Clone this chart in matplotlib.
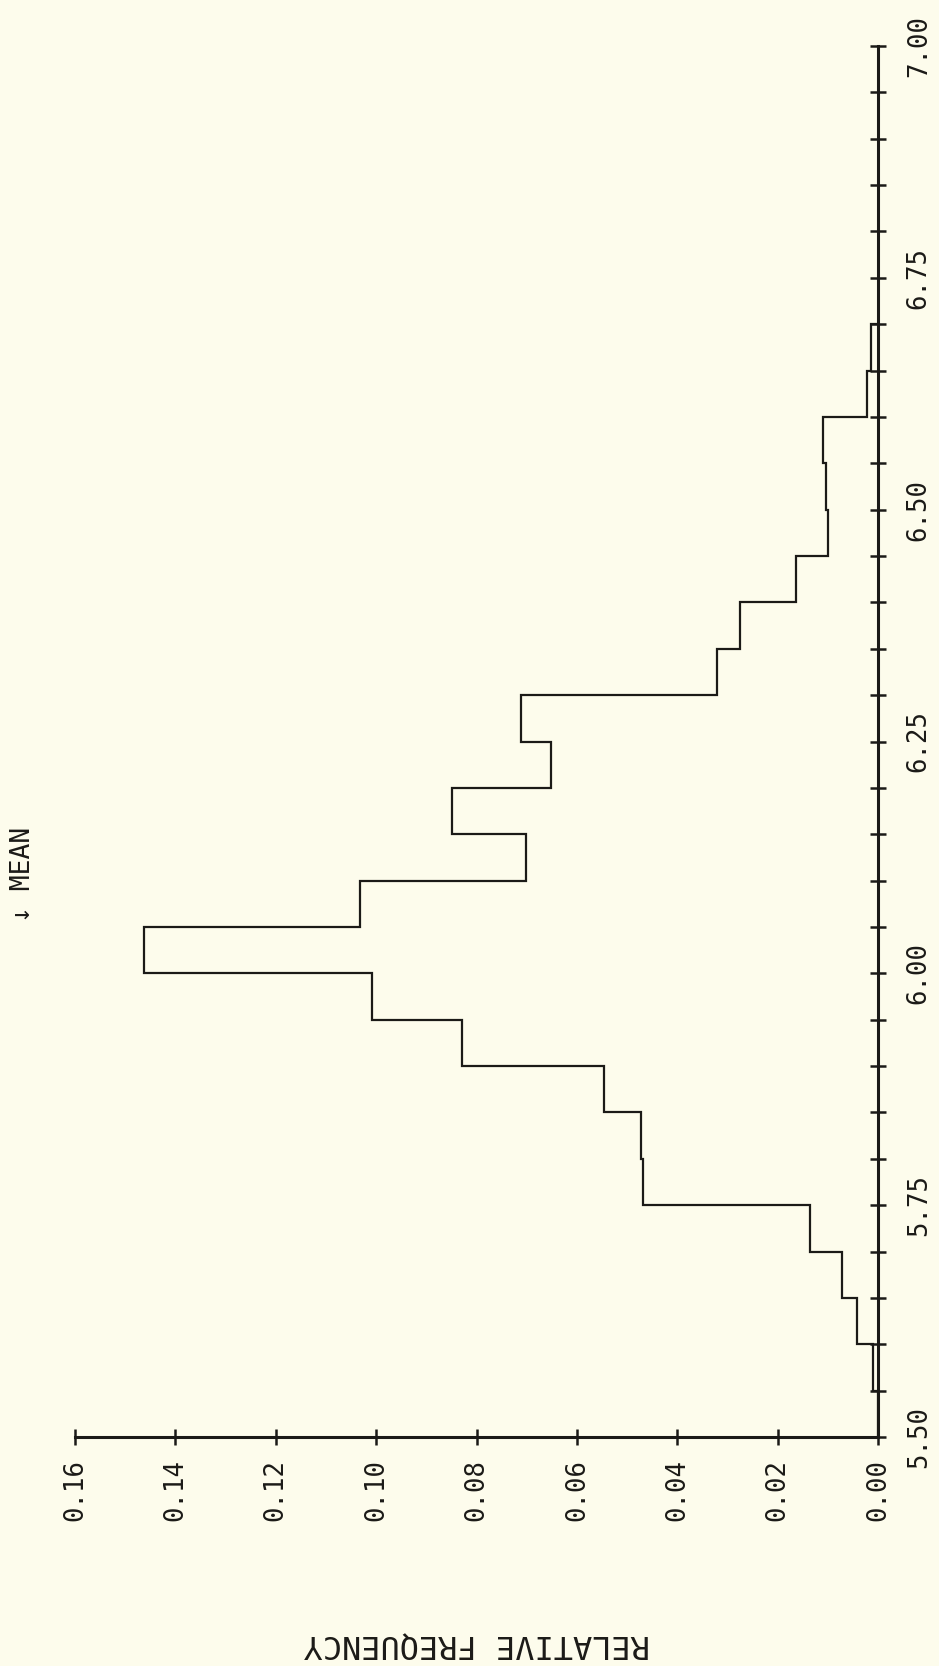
import matplotlib
matplotlib.use("Agg")
import matplotlib.pyplot as plt
from matplotlib.ticker import MultipleLocator

# ---- data ----
bin_edges = [5.50, 5.55, 5.60, 5.65, 5.70, 5.75, 5.80, 5.85, 5.90, 5.95,
             6.00, 6.05, 6.10, 6.15, 6.20, 6.25, 6.30, 6.35, 6.40, 6.45,
             6.50, 6.55, 6.60, 6.65, 6.70]
rel_freq = [0.0000, 0.0010, 0.0042, 0.0072, 0.0135, 0.0468, 0.0473, 0.0546,
            0.0829, 0.1009, 0.1462, 0.1033, 0.0701, 0.0849, 0.0652, 0.0711,
            0.0321, 0.0274, 0.0163, 0.0100, 0.0104, 0.0110, 0.0021, 0.0013]
freq_ticks = [0.00, 0.02, 0.04, 0.06, 0.08, 0.10, 0.12, 0.14, 0.16]
value_ticks = [5.50, 5.75, 6.00, 6.25, 6.50, 6.75, 7.00]
mean_value = 6.055
freq_label = "RELATIVE FREQUENCY"
mean_label = "\u2193 MEAN"

BG = "#FDFCEC"
INK = "#1b1a17"

plt.rcParams["font.family"] = ["DejaVu Sans Mono", "DejaVu Sans"]

W, H = 939, 1666
fig = plt.figure(figsize=(W / 100, H / 100), dpi=100, facecolor=BG)
ax = fig.add_axes([75 / W, (H - 1437) / H, (878 - 75) / W, (1437 - 46) / H])
ax.set_facecolor(BG)

ax.stairs(rel_freq, bin_edges, orientation="horizontal", baseline=0,
          color=INK, lw=1.6, clip_on=False)

ax.set_xlim(0.16, 0.0)
ax.set_ylim(5.5, 7.0)

for s in ["top", "left"]:
    ax.spines[s].set_visible(False)
for s in ["right", "bottom"]:
    ax.spines[s].set_linewidth(2.2)
    ax.spines[s].set_color(INK)

ax.yaxis.tick_right()
ax.set_xticks(freq_ticks)
ax.set_xticklabels([f"{t:.2f}" for t in freq_ticks], rotation=90)
ax.set_yticks(value_ticks)
ax.set_yticklabels([f"{t:.2f}" for t in value_ticks], rotation=90, va="center")
ax.yaxis.set_minor_locator(MultipleLocator(0.05))

ax.tick_params(axis="both", which="both", direction="inout", length=12,
               width=1.8, color=INK, labelcolor=INK)
ax.tick_params(axis="x", pad=10, labelsize=18.5)
ax.tick_params(axis="y", pad=14, labelsize=18.5)

ax.text(0.1704, mean_value, mean_label, rotation=90, ha="center", va="bottom",
        fontsize=19, color=INK, clip_on=False)

fig.text(477 / W, 1 - 1644 / H, freq_label, rotation=180, ha="center",
         va="center", fontsize=23, color=INK)

fig.savefig("out.png", dpi=100, facecolor=BG)
